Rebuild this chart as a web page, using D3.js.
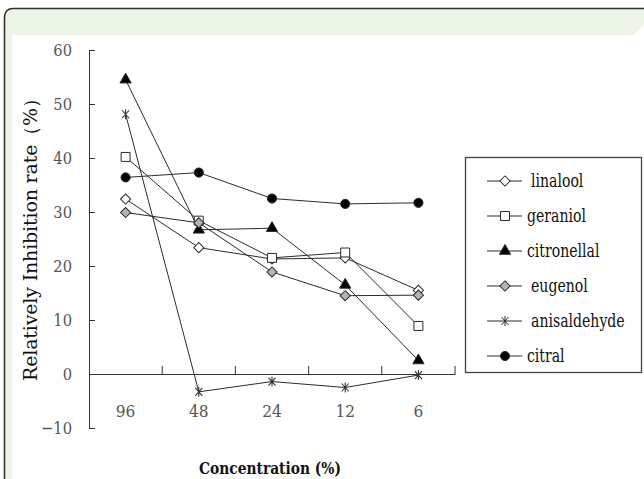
<!DOCTYPE html>
<html>
<head>
<meta charset="utf-8">
<script src="https://cdn.jsdelivr.net/npm/d3@7"></script>
<style>
  body { margin: 0; background: #fff; }
  svg { display: block; }
</style>
</head>
<body>
<svg id="chart" width="644" height="479"></svg>
<script>
// values
const concentrations = ["96", "48", "24", "12", "6"];
const seriesNames = ["linalool", "geraniol", "citronellal", "eugenol", "anisaldehyde", "citral"];
const linalool     = [32.4, 23.4, 21.3, 21.5, 15.5];
const geraniol     = [40.2, 28.4, 21.5, 22.5, 8.9];
const citronellal  = [54.5, 26.7, 27.0, 16.5, 2.5];
const eugenol      = [29.9, 28.0, 18.9, 14.5, 14.6];
const anisaldehyde = [48.1, -3.3, -1.4, -2.5, -0.2];
const citral       = [36.4, 37.3, 32.5, 31.5, 31.7];
const yTicks = [-10, 0, 10, 20, 30, 40, 50, 60];

const values = [linalool, geraniol, citronellal, eugenol, anisaldehyde, citral];
const series = seriesNames.map((name, i) => ({name, values: values[i]}));

const serif = "DejaVu Serif";
const ink = "#2b2b2b";
const markerStyle = {
  linalool:     {type: "diamond",  fill: "#fff"},
  geraniol:     {type: "square",   fill: "#fff"},
  citronellal:  {type: "triangle", fill: "#000"},
  eugenol:      {type: "diamond",  fill: "#b4b4b4"},
  anisaldehyde: {type: "star",     fill: "none"},
  citral:       {type: "circle",   fill: "#000"}
};

function markerPath(type) {
  if (type === "diamond") return d3.symbol(d3.symbolSquare, 52)();
  if (type === "square") return d3.symbol(d3.symbolSquare, 80)();
  if (type === "triangle") return d3.symbol(d3.symbolTriangle, 55)();
  if (type === "circle") return d3.symbol(d3.symbolCircle, 66)();
  return "M-3.5,-4L3.5,4M3.5,-4L-3.5,4M0,-5L0,5";
}
function markerRotate(type) { return type === "diamond" ? " rotate(45)" : ""; }

// DejaVu Serif runs wider than the Times-like face of the figure, squeeze it
function squeeze(sel, k) {
  sel.each(function() {
    const w = this.getComputedTextLength();
    d3.select(this).attr("textLength", w * k).attr("lengthAdjust", "spacingAndGlyphs");
  });
}

const svg = d3.select("#chart");

// page frame: green header strip, white panel
svg.append("path")
    .attr("d", "M4.5,660V17.5Q4.5,8.5 13.5,8.5H660")
    .attr("fill", "#edf4e8")
    .attr("stroke", "#333")
    .attr("stroke-width", 1.6);
svg.append("rect")
    .attr("x", 12).attr("y", 35)
    .attr("width", 640).attr("height", 460)
    .attr("fill", "#fff");

const x = d3.scaleBand().domain(concentrations).range([89, 455]).padding(0);
const y = d3.scaleLinear().domain([-10, 60]).range([428, 50]);

// y axis, ticks pointing inward
svg.append("g")
    .attr("transform", "translate(89,0)")
    .call(d3.axisLeft(y).tickValues(yTicks).tickSize(-6).tickPadding(17).tickFormat(d3.format("d")))
    .call(g => g.select(".domain").attr("stroke", "#333"))
    .call(g => g.selectAll(".tick line").attr("stroke", "#333"))
    .call(g => g.selectAll("text")
        .style("font-family", serif)
        .attr("font-size", 17.5)
        .attr("fill", "#555")
        .call(squeeze, 0.84));

// x axis sits on zero
const xAxis = svg.append("g")
    .attr("transform", `translate(0,${y(0)})`)
    .call(d3.axisBottom(x).tickSize(0).tickPadding(31))
    .call(g => g.select(".domain").attr("stroke", "#333"))
    .call(g => g.selectAll("text")
        .style("font-family", serif)
        .attr("font-size", 17.5)
        .attr("fill", "#555")
        .call(squeeze, 0.88));
xAxis.selectAll(".sep")
  .data(concentrations)
  .join("line")
    .attr("class", "sep")
    .attr("x1", d => x(d) + x.bandwidth())
    .attr("x2", d => x(d) + x.bandwidth())
    .attr("y1", 0)
    .attr("y2", -8)
    .attr("stroke", "#333");

// axis titles
svg.append("text")
    .attr("transform", "translate(37,235) rotate(-90)")
    .attr("text-anchor", "middle")
    .style("font-family", serif)
    .attr("font-size", 19)
    .attr("textLength", 292)
    .attr("fill", "#111")
    .text("Relatively Inhibition rate（%）");

svg.append("text")
    .attr("x", 270).attr("y", 474)
    .attr("text-anchor", "middle")
    .style("font-family", serif)
    .attr("font-size", 17)
    .attr("font-weight", "bold")
    .attr("textLength", 142)
    .attr("lengthAdjust", "spacingAndGlyphs")
    .attr("fill", "#111")
    .text("Concentration (%)");

// lines
const line = d3.line()
    .x((d, i) => x(concentrations[i]) + x.bandwidth() / 2)
    .y(d => y(d));

svg.append("g")
    .attr("fill", "none")
    .attr("stroke", ink)
    .attr("stroke-width", 1)
  .selectAll("path")
  .data(series)
  .join("path")
    .attr("d", d => line(d.values));

// markers
const markers = svg.append("g");
series.forEach(s => {
  const st = markerStyle[s.name];
  markers.append("g")
    .selectAll("path")
    .data(s.values)
    .join("path")
      .attr("transform", (d, i) => `translate(${x(concentrations[i]) + x.bandwidth() / 2},${y(d)})${markerRotate(st.type)}`)
      .attr("d", markerPath(st.type))
      .attr("fill", st.fill)
      .attr("stroke", st.type === "star" ? "#333" : ink)
      .attr("stroke-width", st.type === "star" ? 1.1 : 1);
});

// legend
const legend = svg.append("g");
legend.append("rect")
    .attr("x", 465.5).attr("y", 157.5)
    .attr("width", 176).attr("height", 215)
    .attr("fill", "#fff")
    .attr("stroke", "#444")
    .attr("stroke-width", 1.3);

const item = legend.selectAll(".item")
  .data(series)
  .join("g")
    .attr("class", "item")
    .attr("transform", (d, i) => `translate(0,${181 + i * 35})`);

item.append("line")
    .attr("x1", 487).attr("x2", 522)
    .attr("stroke", ink);
item.append("path")
    .attr("transform", d => `translate(505,0)${markerRotate(markerStyle[d.name].type)}`)
    .attr("d", d => markerPath(markerStyle[d.name].type))
    .attr("fill", d => markerStyle[d.name].type === "star" ? "#fff" : markerStyle[d.name].fill)
    .attr("stroke", ink);
item.append("text")
    .attr("x", d => ["linalool", "eugenol", "anisaldehyde"].includes(d.name) ? 531 : 527)
    .attr("dy", "0.32em")
    .style("font-family", serif)
    .attr("font-size", 19)
    .attr("fill", "#111")
    .text(d => d.name)
    .call(squeeze, 0.74);
</script>
</body>
</html>
